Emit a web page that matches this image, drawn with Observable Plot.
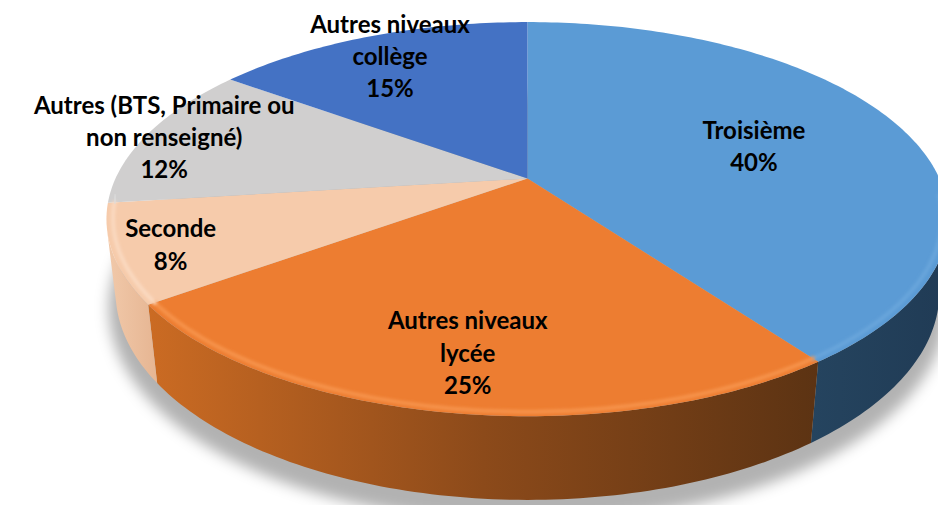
<!DOCTYPE html>
<html><head><meta charset="utf-8">
<script src="https://cdn.jsdelivr.net/npm/d3@7"></script>
<script src="https://cdn.jsdelivr.net/npm/@observablehq/plot@0.6"></script>
<style>body{margin:0;background:#fff;overflow:hidden}</style>
</head><body><div id="chart"></div>
<script>
// ---- data ----
const categories = ["Troisième", "Autres niveaux lycée", "Seconde", "Autres (BTS, Primaire ou non renseigné)", "Autres niveaux collège"];
const labelTexts = ["Troisième", "Autres niveaux\nlycée", "Seconde", "Autres (BTS, Primaire ou\nnon renseigné)", "Autres niveaux\ncollège"];
const values = [40, 25, 8, 12, 15];

// ---- style ----
const topColors = ["#5B9BD5", "#ED7D31", "#F6CBAB", "#D0CFCF", "#4472C4"];
const rimColors = ["#6AA6DC", "#F7954D", "#FBDAC2", "#DCDBDB", "#5582CF"];
const sideFills = ["url(#side0)", "url(#side1)", "url(#side2)", "#A8A8A8", "#2F528F"];
const labelRadius = [0.60, 0.78, 0.87, 0.955, 0.85];

// ---- 3D view ----
const W = 938, H = 505;
const view = {cx: 527, cy: 178, A: 412, sinE: 0.458, rd: 0.232, h: 0.2};
const cosE = Math.sqrt(1 - view.sinE ** 2);
function project(kx, ky, kz) {
  const w = 1 + view.rd * (ky * cosE - kz * view.sinE);
  return [view.cx + view.A * kx / w, view.cy - view.A * (ky * view.sinE + kz * cosE) / w];
}
function polar(deg, r, z) {
  const p = deg * Math.PI / 180;
  return project(r * Math.sin(p), r * Math.cos(p), z);
}
const total = d3.sum(values);
const cum = d3.cumsum(values);
const slices = values.map((v, i) => ({i, a0: 360 * (cum[i] - v) / total, a1: 360 * cum[i] / total}));
const vis0 = Math.acos(-view.rd / cosE) * 180 / Math.PI, vis1 = 360 - vis0;

function arcPts(a0, a1, r, z) {
  const n = Math.max(2, Math.ceil(Math.abs(a1 - a0)));
  return d3.range(n + 1).map(k => polar(a0 + (a1 - a0) * k / n, r, z));
}
const toObj = pts => pts.map(([x, y]) => ({x, y}));

const marks = [];
// shadow
marks.push(Plot.line(toObj(arcPts(0, 360, 1.02, -view.h - 0.04)), {x: "x", y: "y", fill: "#000", fillOpacity: 0.3, stroke: "none"}));
// walls
for (const s of slices) {
  const a0 = Math.max(s.a0, vis0), a1 = Math.min(s.a1, vis1);
  if (a1 <= a0) continue;
  const pts = [...arcPts(a0, a1, 1, 0), ...arcPts(a1, a0, 1, -view.h)];
  marks.push(Plot.line(toObj(pts), {x: "x", y: "y", fill: sideFills[s.i], stroke: "none"}));
}
// tops
for (const s of slices) {
  const pts = [project(0, 0, 0), ...arcPts(s.a0, s.a1, 1, 0)];
  marks.push(Plot.line(toObj(pts), {x: "x", y: "y", fill: topColors[s.i], stroke: "none"}));
}
// bevel highlight on visible rim
for (const s of slices) {
  const a0 = Math.max(s.a0, vis0 - 10), a1 = Math.min(s.a1, vis1 + 10);
  if (a1 <= a0) continue;
  marks.push(Plot.line(toObj(arcPts(a0, a1, 0.985, 0)), {x: "x", y: "y", stroke: rimColors[s.i], strokeWidth: 4, strokeOpacity: 0.9}));
}
// labels
const labels = slices.map(s => {
  const mid = (s.a0 + s.a1) / 2;
  const [x, y] = polar(mid, labelRadius[s.i], 0);
  return {x, y, text: labelTexts[s.i] + "\n" + values[s.i] + "%"};
});
marks.push(Plot.text(labels, {x: "x", y: "y", text: "text", fill: "#000", fontSize: 24, fontWeight: "bold",
  fontFamily: "Lato", lineHeight: 1.34, textAnchor: "middle", lineAnchor: "middle"}));

const svg = Plot.plot({
  width: W, height: H, margin: 0,
  x: {domain: [0, W], range: [0, W], axis: null},
  y: {domain: [0, H], range: [0, H], axis: null},
  marks
});
const sel = d3.select(svg);
const defs = sel.insert("defs", ":first-child");
function grad(id, stops) {
  const g = defs.append("linearGradient").attr("id", id).attr("x1", 0).attr("x2", 1).attr("y1", 0).attr("y2", 0);
  stops.forEach(([o, c]) => g.append("stop").attr("offset", o).attr("stop-color", c));
}
grad("side0", [[0, "#25445F"], [1, "#203B55"]]);
grad("side1", [[0, "#CB6B23"], [0.5, "#8C4A1A"], [1, "#5C3313"]]);
grad("side2", [[0, "#F1C9AA"], [1, "#E6B592"]]);
defs.append("filter").attr("id", "blur").attr("x", "-10%").attr("y", "-10%").attr("width", "120%").attr("height", "130%")
  .append("feGaussianBlur").attr("stdDeviation", 7);
defs.append("filter").attr("id", "soft").append("feGaussianBlur").attr("stdDeviation", 1.5);
const lineGroups = sel.selectAll("g[aria-label='line']").nodes();
d3.select(lineGroups[0]).attr("filter", "url(#blur)");
const nWalls = slices.filter(s => Math.min(s.a1, vis1) > Math.max(s.a0, vis0)).length;
lineGroups.slice(1 + nWalls + slices.length).forEach(g => d3.select(g).attr("filter", "url(#soft)"));
document.getElementById("chart").appendChild(svg);
</script>
</body></html>
